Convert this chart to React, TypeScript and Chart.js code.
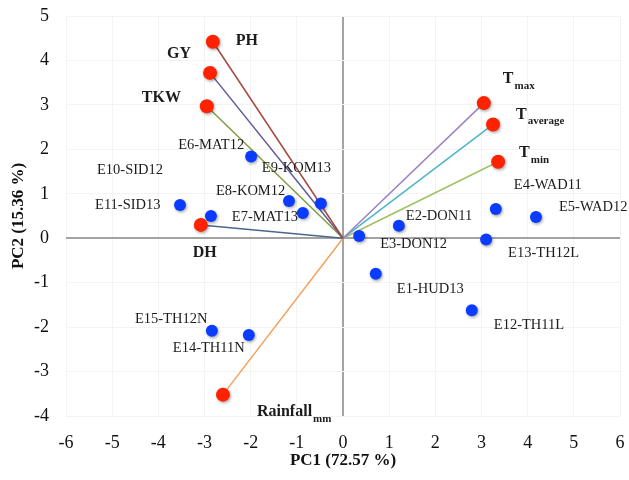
import React, { useEffect, useRef } from 'react';
import { Chart, registerables } from 'chart.js';

Chart.register(...registerables);

// Variables (red points, vectors from origin)
const variableNames = ['PH', 'GY', 'TKW', 'DH', 'T', 'T', 'T', 'Rainfall'];
const variableSubs = ['', '', '', '', 'max', 'average', 'min', 'mm'];
const variablePC1 = [-2.82, -2.88, -2.95, -3.08, 3.05, 3.25, 3.36, -2.6];
const variablePC2 = [4.42, 3.72, 2.97, 0.3, 3.04, 2.56, 1.72, -3.52];

// Environments (blue points)
const envNames = [
  'E1-HUD13', 'E2-DON11', 'E3-DON12', 'E4-WAD11', 'E5-WAD12', 'E6-MAT12',
  'E7-MAT13', 'E8-KOM12', 'E9-KOM13', 'E10-SID12', 'E11-SID13', 'E12-TH11L',
  'E13-TH12L', 'E14-TH11N', 'E15-TH12N',
];
const envPC1 = [0.71, 1.21, 0.35, 3.31, 4.18, -1.99, -0.87, -1.17, -0.48, -2.86, -3.53, 2.79, 3.1, -2.04, -2.84];
const envPC2 = [-0.8, 0.28, 0.05, 0.66, 0.48, 1.84, 0.57, 0.84, 0.78, 0.5, 0.75, -1.62, -0.03, -2.18, -2.08];

// Axis ranges / titles
const xMin = -6;
const xMax = 6;
const yMin = -4;
const yMax = 5;
const xTitle = 'PC1 (72.57 %)';
const yTitle = 'PC2 (15.36 %)';

// Styles (not data)
const vectorColors = ['#a4483f', '#5d5b98', '#809c42', '#47688f', '#9b82c4', '#4cb4c9', '#a2c062', '#f2a25a'];
const varLabelOffsets: [number, number][] = [
  [23, -1], [-43, -19], [-65, -8], [-8, 28], [19, -24], [23, -10], [21, -9], [34, 17],
];
const envLabelOffsets: [number, number][] = [
  [21, 15], [7, -10], [21, 8], [18, -24], [23, -10], [-73, -11],
  [-71, 4], [-73, -10], [-59, -35], [-114, -46], [-85, 0], [22, 15],
  [22, 14], [-76, 13], [-77, -11],
];
const SERIF = "'Liberation Serif', 'Times New Roman', serif";

const shadowPlugin = {
  id: 'pointShadow',
  beforeDatasetDraw(chart: any, args: any) {
    const ds = chart.data.datasets[args.index];
    if (ds.isPoints) {
      const ctx = chart.ctx;
      ctx.save();
      ctx.shadowColor = 'rgba(0,0,0,0.35)';
      ctx.shadowBlur = 3;
      ctx.shadowOffsetX = 1;
      ctx.shadowOffsetY = 1.5;
    }
  },
  afterDatasetDraw(chart: any, args: any) {
    const ds = chart.data.datasets[args.index];
    if (ds.isPoints) chart.ctx.restore();
  },
};

const labelPlugin = {
  id: 'pcaLabels',
  afterDatasetsDraw(chart: any) {
    const ctx = chart.ctx;
    const xs = chart.scales.x;
    const ys = chart.scales.y;
    ctx.save();
    ctx.textAlign = 'left';
    ctx.textBaseline = 'middle';
    ctx.fillStyle = '#1c1c1c';
    ctx.font = `14.5px ${SERIF}`;
    envNames.forEach((n, i) => {
      const px = xs.getPixelForValue(envPC1[i]);
      const py = ys.getPixelForValue(envPC2[i]);
      ctx.fillText(n, px + envLabelOffsets[i][0], py + envLabelOffsets[i][1]);
    });
    variableNames.forEach((n, i) => {
      const px = xs.getPixelForValue(variablePC1[i]) + varLabelOffsets[i][0];
      const py = ys.getPixelForValue(variablePC2[i]) + varLabelOffsets[i][1];
      ctx.font = `bold 16px ${SERIF}`;
      ctx.fillText(n, px, py);
      const w = ctx.measureText(n).width;
      if (variableSubs[i]) {
        ctx.font = `bold 11px ${SERIF}`;
        ctx.fillText(variableSubs[i], px + w + 1, py + 7);
      }
    });
    ctx.restore();
  },
};

export default function App() {
  const ref = useRef<HTMLCanvasElement | null>(null);
  useEffect(() => {
    if (!ref.current) return;
    const vectorSets = variableNames.map((n, i) => ({
      type: 'line' as const,
      label: n + variableSubs[i],
      data: [{ x: 0, y: 0 }, { x: variablePC1[i], y: variablePC2[i] }],
      borderColor: vectorColors[i],
      borderWidth: 1.5,
      pointRadius: 0,
      fill: false,
      order: 3,
    }));
    const gridColor = (c: any) => (c.tick && c.tick.value === 0 ? '#a3a3a3' : '#f3f3f3');
    const gridWidth = (c: any) => (c.tick && c.tick.value === 0 ? 2 : 1);
    const chart = new Chart(ref.current, {
      type: 'scatter',
      data: {
        datasets: [
          ...vectorSets,
          {
            label: 'Environments',
            data: envPC1.map((x, i) => ({ x, y: envPC2[i] })),
            backgroundColor: '#0a3cff',
            borderColor: '#0a3cff',
            pointRadius: 6,
            borderWidth: 0,
            order: 2,
            isPoints: true,
          } as any,
          {
            label: 'Variables',
            data: variablePC1.map((x, i) => ({ x, y: variablePC2[i] })),
            backgroundColor: '#ff2200',
            borderColor: '#ff2200',
            pointRadius: 7,
            borderWidth: 0,
            order: 1,
            isPoints: true,
          } as any,
        ],
      },
      options: {
        responsive: false,
        animation: false,
        layout: { padding: { top: 16, right: 9, left: 0, bottom: 0 } },
        plugins: { legend: { display: false }, tooltip: { enabled: false } },
        scales: {
          x: {
            type: 'linear',
            min: xMin,
            max: xMax,
            afterFit: (s: any) => { s.height = 64; s.paddingLeft = 0; s.paddingRight = 0; },
            border: { display: false },
            grid: { drawTicks: false, color: gridColor, lineWidth: gridWidth },
            ticks: { stepSize: 1, padding: 16, color: '#111', font: { family: SERIF, size: 18 } },
            title: {
              display: true,
              text: xTitle,
              color: '#111',
              font: { family: SERIF, size: 17, weight: 'bold' },
              padding: { top: 0, bottom: 9 },
            },
          },
          y: {
            type: 'linear',
            min: yMin,
            max: yMax,
            afterFit: (s: any) => { s.width = 66; s.paddingTop = 0; s.paddingBottom = 0; },
            border: { display: false },
            grid: { drawTicks: false, color: gridColor, lineWidth: gridWidth },
            ticks: { stepSize: 1, padding: 17, color: '#111', font: { family: SERIF, size: 18 } },
            title: {
              display: true,
              text: yTitle,
              color: '#111',
              font: { family: SERIF, size: 17, weight: 'bold' },
              padding: { top: 8, bottom: 0 },
            },
          },
        },
      },
      plugins: [shadowPlugin, labelPlugin],
    });
    return () => chart.destroy();
  }, []);
  return (
    <div style={{ position: 'fixed', left: 0, top: 0, width: 629, height: 480, background: '#fff' }}>
      <canvas ref={ref} width={629} height={480} />
    </div>
  );
}
